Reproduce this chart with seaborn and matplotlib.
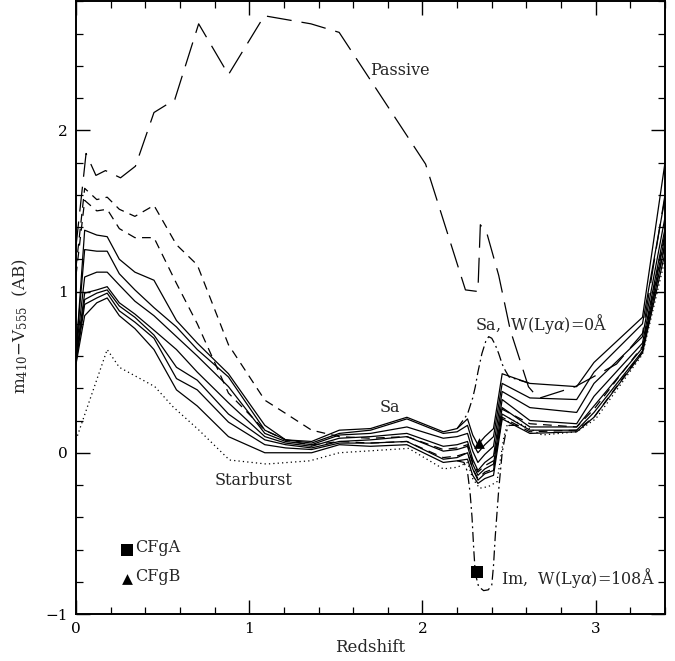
import matplotlib
matplotlib.use("Agg")
import matplotlib.pyplot as plt
from matplotlib.ticker import MultipleLocator
import pandas as pd
import seaborn as sns

# ---------------------------------------------------------------
# Colour tracks m410 - V555 (AB) versus redshift
# ---------------------------------------------------------------

# redshift nodes shared by the spiral and early-type tracks
z_nodes = [0.00, 0.05, 0.12, 0.18, 0.25, 0.34, 0.45, 0.58, 0.70, 0.88,
           1.09, 1.21, 1.36, 1.52, 1.70, 1.91, 2.12, 2.20, 2.26, 2.29,
           2.32, 2.36, 2.41, 2.46, 2.62, 2.89, 2.99, 3.27, 3.40]

# solid tracks (Sa at the top down to the latest type)
sa = [0.62, 1.38, 1.35, 1.34, 1.20, 1.12, 1.07, 0.82, 0.68, 0.49,
      0.17, 0.08, 0.07, 0.14, 0.15, 0.22, 0.13, 0.15, 0.21, 0.11,
      0.05, 0.10, 0.15, 0.49, 0.43, 0.41, 0.56, 0.84, 1.80]
sab = [0.64, 1.26, 1.25, 1.25, 1.11, 1.01, 0.90, 0.78, 0.64, 0.47,
       0.14, 0.08, 0.06, 0.12, 0.14, 0.21, 0.12, 0.13, 0.17, 0.06,
       0.00, 0.05, 0.10, 0.43, 0.34, 0.33, 0.50, 0.80, 1.58]
sb = [0.62, 1.09, 1.12, 1.12, 1.04, 0.94, 0.85, 0.72, 0.60, 0.41,
      0.12, 0.07, 0.05, 0.11, 0.12, 0.16, 0.09, 0.10, 0.12, 0.01,
      -0.06, -0.01, 0.04, 0.38, 0.28, 0.25, 0.43, 0.72, 1.46]
sbc = [0.60, 0.99, 1.01, 1.03, 0.93, 0.86, 0.76, 0.64, 0.50, 0.31,
       0.10, 0.06, 0.04, 0.09, 0.10, 0.12, 0.04, 0.05, 0.07, -0.04,
       -0.11, -0.06, -0.02, 0.33, 0.20, 0.18, 0.35, 0.68, 1.39]
sc = [0.58, 0.95, 0.99, 1.01, 0.91, 0.84, 0.73, 0.53, 0.45, 0.24,
      0.08, 0.05, 0.03, 0.07, 0.08, 0.10, 0.01, 0.02, 0.04, -0.07,
      -0.14, -0.10, -0.07, 0.28, 0.16, 0.16, 0.29, 0.65, 1.34]
sd = [0.56, 0.92, 0.96, 0.99, 0.88, 0.81, 0.71, 0.46, 0.39, 0.19,
      0.05, 0.03, 0.02, 0.06, 0.06, 0.07, -0.04, -0.03, 0.00, -0.10,
      -0.17, -0.13, -0.11, 0.24, 0.14, 0.14, 0.25, 0.63, 1.29]
im = [0.55, 0.85, 0.93, 0.96, 0.85, 0.77, 0.64, 0.39, 0.29, 0.10,
      0.00, 0.00, 0.00, 0.05, 0.04, 0.05, -0.06, -0.05, -0.04, -0.14,
      -0.19, -0.16, -0.14, 0.21, 0.12, 0.13, 0.22, 0.62, 1.24]

# short-dashed early-type tracks
e_type = [1.15, 1.64, 1.57, 1.585, 1.51, 1.466, 1.534, 1.29, 1.165, 0.67,
          0.326, 0.244, 0.14, 0.10, 0.09, 0.10, 0.02, 0.03, 0.05, -0.06,
          -0.12, -0.08, -0.05, 0.27, 0.18, 0.16, 0.27, 0.66, 1.36]
s0_type = [1.10, 1.565, 1.50, 1.51, 1.39, 1.334, 1.334, 1.05, 0.80, 0.37,
           0.14, 0.079, 0.048, 0.07, 0.06, 0.07, -0.03, -0.02, 0.00, -0.10,
           -0.16, -0.12, -0.10, 0.22, 0.13, 0.14, 0.22, 0.63, 1.30]

# passive (long-dashed) track
z_passive = [0.0, 0.058, 0.115, 0.17, 0.257, 0.343, 0.45, 0.57, 0.708, 0.88,
             1.087, 1.356, 1.519, 2.018, 2.248, 2.32, 2.334, 2.372, 2.44,
             2.507, 2.612, 2.67, 2.88, 2.98, 3.12, 3.27, 3.40]
passive = [1.28, 1.856, 1.72, 1.75, 1.705, 1.777, 2.11, 2.19, 2.66, 2.345,
           2.71, 2.66, 2.607, 1.79, 1.01, 1.00, 1.414, 1.36, 1.10,
           0.76, 0.409, 0.337, 0.409, 0.467, 0.55, 0.74, 1.60]

# starburst (dotted) track
z_starburst = [0.0, 0.18, 0.25, 0.455, 0.56, 0.71, 0.886, 1.10, 1.35, 1.52,
               1.92, 2.12, 2.20, 2.26, 2.29, 2.33, 2.38, 2.43, 2.47, 2.50,
               2.69, 2.89, 3.00, 3.27, 3.40]
starburst = [0.08, 0.64, 0.53, 0.41, 0.285, 0.14, -0.045, -0.07, -0.05, 0.0,
             0.027, -0.10, -0.09, -0.06, -0.16, -0.22, -0.21, -0.18, 0.10, 0.215,
             0.11, 0.13, 0.21, 0.61, 1.20]

# Sa without Lyman-alpha emission (dash-dot, where it departs from Sa)
z_sa_w0 = [2.20, 2.26, 2.29, 2.305, 2.32, 2.343, 2.365, 2.382, 2.40, 2.42,
           2.44, 2.46, 2.478, 2.50, 2.62]
sa_w0 = [0.15, 0.24, 0.34, 0.41, 0.50, 0.615, 0.69, 0.72, 0.71, 0.67,
         0.615, 0.55, 0.51, 0.47, 0.43]

# Im with W(Lya) = 108 A (dash-dot)
z_im_w108 = [2.20, 2.24, 2.26, 2.275, 2.286, 2.296, 2.305, 2.324, 2.353, 2.38,
             2.40, 2.41, 2.42, 2.44, 2.46, 2.48, 2.50, 2.55]
im_w108 = [-0.05, -0.06, -0.12, -0.25, -0.40, -0.60, -0.75, -0.83, -0.855, -0.85,
           -0.82, -0.70, -0.52, -0.23, 0.0, 0.12, 0.17, 0.17]

# observed galaxies
cfga_z, cfga_col = [2.315], [-0.74]
cfgb_z, cfgb_col = [2.324], [0.06]

# ---------------------------------------------------------------
sns.set_theme(style="ticks")
plt.rcParams.update({
    "font.family": ["DejaVu Serif"],
    "mathtext.fontset": "dejavuserif",
    "font.size": 11.5,
    "axes.linewidth": 1.4,
    "xtick.direction": "in", "ytick.direction": "in",
    "xtick.top": True, "ytick.right": True,
    "xtick.major.size": 10, "ytick.major.size": 10,
    "xtick.minor.size": 5, "ytick.minor.size": 5,
    "xtick.major.width": 1.0, "ytick.major.width": 1.0,
    "xtick.minor.width": 0.9, "ytick.minor.width": 0.9,
    "xtick.color": "black", "ytick.color": "black",
    "axes.edgecolor": "black",
})

fig = plt.figure(figsize=(6.75, 6.61), dpi=100)
ax = fig.add_axes([0.1126, 0.0711, 0.8726, 0.927])

lw = 0.9


def track(x, y, ls):
    df = pd.DataFrame({"z": x, "col": y})
    sns.lineplot(data=df, x="z", y="col", ax=ax, color="black", linewidth=lw,
                 linestyle=ls, sort=False, estimator=None)


for series in (sa, sab, sb, sbc, sc, sd, im):
    track(z_nodes, series, "-")
for series in (e_type, s0_type):
    track(z_nodes, series, (0, (7, 5)))
track(z_passive, passive, (0, (20, 8)))
track(z_starburst, starburst, (0, (1, 2.5)))
track(z_sa_w0, sa_w0, (0, (8, 3, 1.5, 3)))
track(z_im_w108, im_w108, (0, (8, 3, 1.5, 3)))

sns.scatterplot(x=cfga_z + [0.297], y=cfga_col + [-0.60], ax=ax, marker="s",
                color="black", s=70, linewidth=0, zorder=5)
sns.scatterplot(x=cfgb_z + [0.297], y=cfgb_col + [-0.785], ax=ax, marker="^",
                color="black", s=60, linewidth=0, zorder=5)

ax.text(0.34, -0.585, "CFgA", ha="left", va="center")
ax.text(0.34, -0.77, "CFgB", ha="left", va="center")
ax.text(1.70, 2.37, "Passive", ha="left", va="center")
ax.text(1.75, 0.28, "Sa", ha="left", va="center")
ax.text(0.80, -0.17, "Starburst", ha="left", va="center")
ax.text(2.305, 0.80, r"Sa,  W(Ly$\alpha$)=0Å", ha="left", va="center")
ax.text(2.455, -0.775, r"Im,  W(Ly$\alpha$)=108Å", ha="left", va="center")

ax.set_xlim(0, 3.4)
ax.set_ylim(-1, 2.8)
ax.xaxis.set_major_locator(MultipleLocator(1))
ax.xaxis.set_minor_locator(MultipleLocator(0.2))
ax.yaxis.set_major_locator(MultipleLocator(1))
ax.yaxis.set_minor_locator(MultipleLocator(0.2))
ax.tick_params(which="both", pad=6)

ax.set_xlabel("Redshift", labelpad=2)
ax.set_ylabel(r"m$_{410}$$-$V$_{555}$  (AB)")
ax.yaxis.set_label_coords(-0.078, 0.47)

fig.savefig("out.png", dpi=100)
